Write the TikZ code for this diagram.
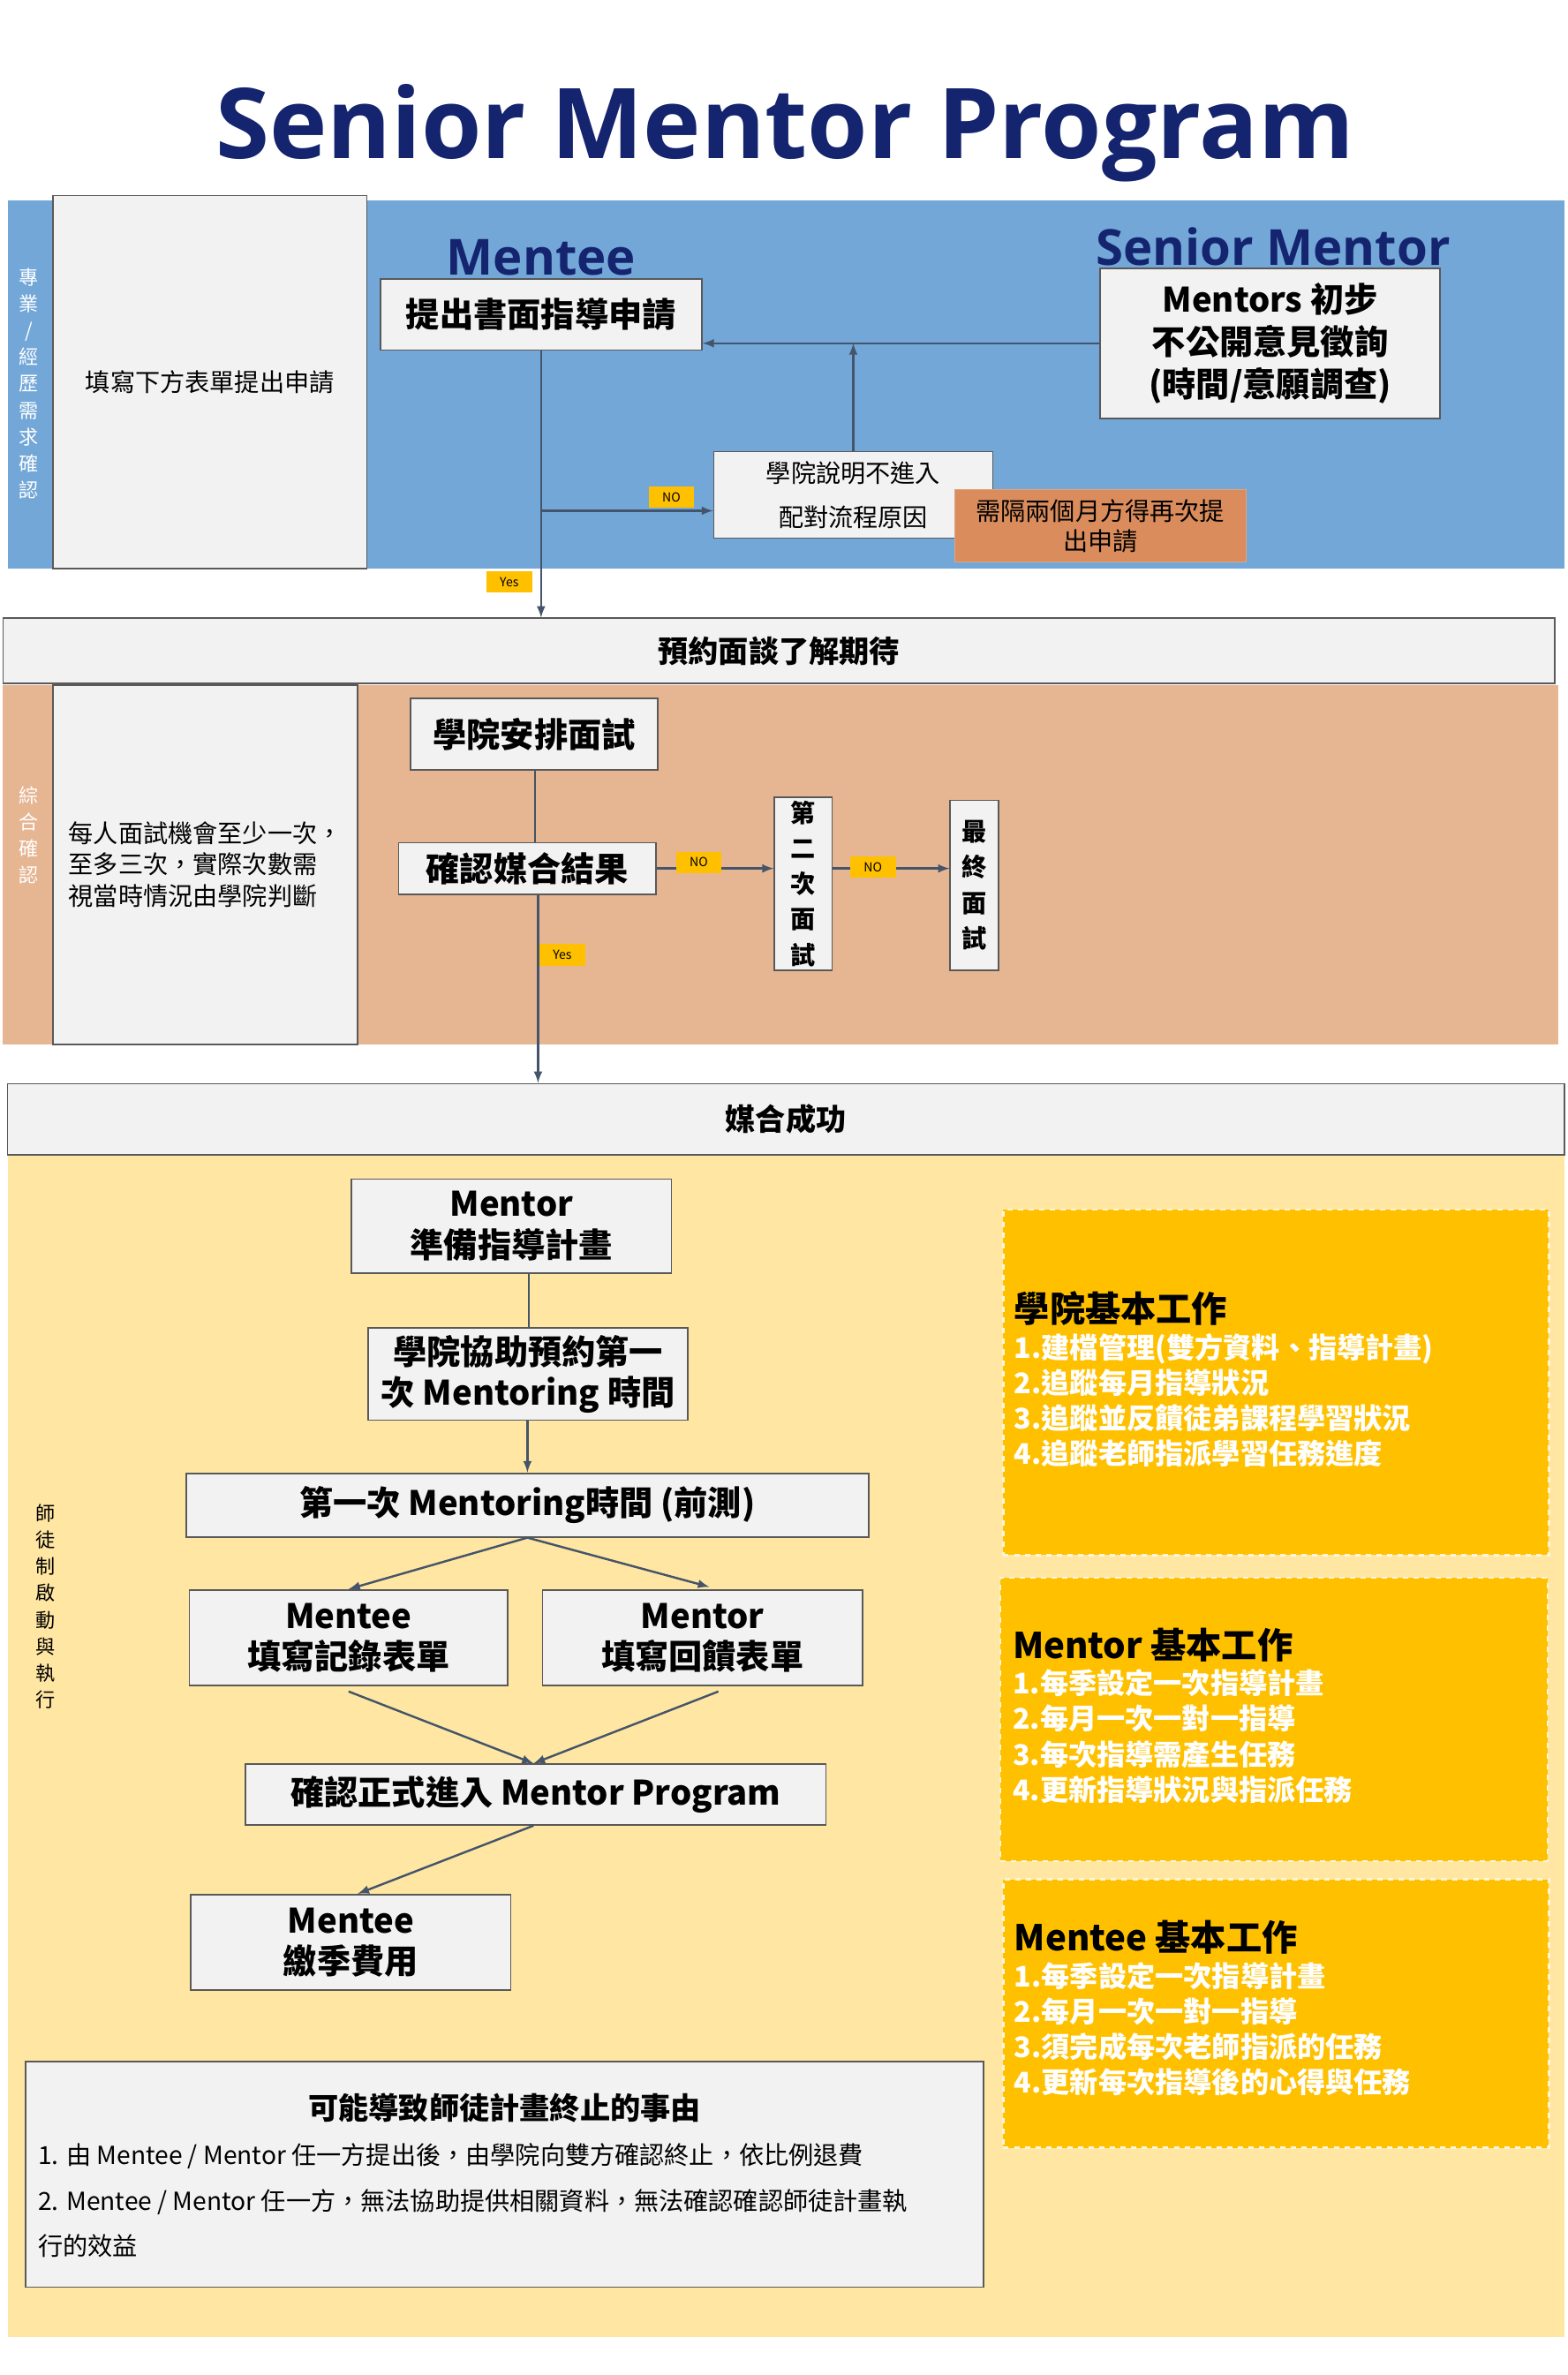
\documentclass[tikz,border=0pt]{standalone}
\usepackage{fontspec}
\setmainfont{Noto Sans CJK TC}
\newfontfamily\titlefont{Open Sans}
\usetikzlibrary{positioning,calc}

\definecolor{navy}{RGB}{20,36,110}
\definecolor{bandblue}{RGB}{114,167,216}
\definecolor{bandtan}{RGB}{230,181,146}
\definecolor{bandyellow}{RGB}{255,230,162}
\definecolor{gold}{RGB}{255,192,0}
\definecolor{waitorange}{RGB}{218,140,92}
\definecolor{boxgray}{RGB}{242,242,242}
\definecolor{edgegray}{RGB}{89,89,89}
\definecolor{arrowslate}{RGB}{68,84,106}

\begin{document}
\begin{tikzpicture}[x=0.03cm,y=-0.03cm,
    sz/.style 2 args={minimum width=#1*0.03cm, minimum height=#2*0.03cm},
    box/.style={draw=edgegray, line width=0.9pt, fill=boxgray, inner sep=0pt, align=center},
    goldbox/.style={draw=white!85!gold, dashed, line width=1.2pt, fill=gold, inner sep=0pt},
    tag/.style={fill=gold, inner sep=0pt, sz={30}{14}, font=\fontsize{7}{8}\selectfont},
    flow/.style={draw=arrowslate, line width=1.2pt, -latex},
    plain/.style={draw=arrowslate, line width=1.2pt},
    big/.style={font=\fontsize{19}{23}\selectfont\bfseries},
    mid/.style={font=\fontsize{14}{18}\selectfont},
    sidetext/.style={align=center, font=\fontsize{11}{15}\selectfont}]
  \useasboundingbox (0,0) rectangle (1034,1567);
  \fill[white] (0,0) rectangle (1034,1567);
  % bands
  \fill[bandblue] (5,132) rectangle (1032,375);
  \fill[bandtan] (2,452) rectangle (1028,689);
  \fill[bandyellow] (5,762) rectangle (1032,1542);
  % headings
  \node[text=navy, font=\fontsize{55}{62}\selectfont\titlefont\bfseries] (title) at (518,88) {Senior Mentor Program};
  \node[text=navy, font=\fontsize{28}{32}\selectfont\titlefont\bfseries] (menteehead) at (357,170) {Mentee};
  \node[text=navy, font=\fontsize{28}{32}\selectfont\titlefont\bfseries] (mentorhead) at (840,163) {Senior Mentor};
  \node[sidetext, text=white] (side1) at (19,253) {專\\業\\/\\經\\歷\\需\\求\\確\\認};
  \node[sidetext, text=white] (side2) at (19,551) {綜\\合\\確\\認};
  \node[sidetext] (side3) at (30,1060) {師\\徒\\制\\啟\\動\\與\\執\\行};

  % application stage
  \node[box, sz={207}{246}, mid] (form) at (138.5,252) {填寫下方表單提出申請};
  \node[box, sz={212}{47}, big] (apply) at (357,207.5) {提出書面指導申請};
  \node[box, sz={224}{99}, font=\fontsize{19}{24}\selectfont\bfseries] (mentors) at (838,226.5) {Mentors 初步\\不公開意見徵詢\\(時間/意願調查)};
  \node[box, sz={184}{57}, font=\fontsize{14}{25}\selectfont] (reason) at (563,326.5) {學院說明不進入\\配對流程原因};
  \node[fill=waitorange, draw=waitorange!80!white, sz={192}{48}, inner sep=0pt, align=center, font=\fontsize{14}{17}\selectfont] (wait) at (726,347) {需隔兩個月方得再次提\\出申請};

  % interview stage
  \node[box, sz={1024}{43}, font=\fontsize{17}{20}\selectfont\bfseries] (reserve) at (514,429.5) {預約面談了解期待};
  \node[box, sz={201}{237}, align=left, font=\fontsize{14}{17.5}\selectfont] (chances) at (135.5,570.5) {每人面試機會至少一次，\\至多三次，實際次數需\\視當時情況由學院判斷};
  \node[box, sz={163}{47}, big] (interview) at (352.5,484.5) {學院安排面試};
  \node[box, sz={170}{34}, big] (confirm) at (348,573) {確認媒合結果};
  \node[box, sz={38}{114}, font=\fontsize{14}{20}\selectfont\bfseries] (second) at (530,583) {第\\二\\次\\面\\試};
  \node[box, sz={32}{112}, font=\fontsize{14}{20}\selectfont\bfseries] (final) at (643,584) {最\\終\\面\\試};

  % matched stage
  \node[box, sz={1027}{47}, font=\fontsize{17}{20}\selectfont\bfseries] (matched) at (518.5,738.5) {媒合成功};
  \node[box, sz={211}{62}, big] (plan) at (337.5,809) {Mentor\\準備指導計畫};
  \node[box, sz={211}{61}, big] (book) at (348.5,906.5) {學院協助預約第一\\次 Mentoring 時間};
  \node[box, sz={450}{42}, big] (first) at (348,993) {第一次 Mentoring時間 (前測)};
  \node[box, sz={210}{63}, big] (record) at (230,1080.5) {Mentee\\填寫記錄表單};
  \node[box, sz={211}{63}, big] (feedback) at (463.5,1080.5) {Mentor\\填寫回饋表單};
  \node[box, sz={383}{40}, big] (enter) at (353.5,1184) {確認正式進入 Mentor Program};
  \node[box, sz={211}{63}, big] (fee) at (231.5,1281.5) {Mentee\\繳季費用};
  \node[box, sz={632}{149}] (stop) at (333,1434.5) {};
  \node[font=\fontsize{17}{20}\selectfont\bfseries] (stoptitle) at (333,1391) {可能導致師徒計畫終止的事由};
  \node[anchor=north west, align=left, inner sep=0pt, font=\fontsize{14}{25.6}\selectfont] (stoplist) at (25,1414) {1. 由 Mentee / Mentor 任一方提出後，由學院向雙方確認終止，依比例退費\\2. Mentee / Mentor 任一方，無法協助提供相關資料，無法確認確認師徒計畫執\\行的效益};

  % basic duties
  \node[goldbox, sz={360}{228}] (collegebox) at (842,912) {};
  \node[goldbox, sz={361}{187}] (mentorbox) at (840.5,1134.5) {};
  \node[goldbox, sz={360}{177}] (menteebox) at (842,1328.5) {};
  \node[anchor=north west, align=left, inner sep=0pt, text=white, font=\fontsize{16}{20}\selectfont\bfseries] (collegetext) at (669,852)
    {{\color{black}\fontsize{20}{24}\selectfont 學院基本工作}\\1.建檔管理(雙方資料、指導計畫)\\2.追蹤每月指導狀況\\3.追蹤並反饋徒弟課程學習狀況\\4.追蹤老師指派學習任務進度};
  \node[anchor=north west, align=left, inner sep=0pt, text=white, font=\fontsize{16}{20}\selectfont\bfseries] (mentortext) at (668,1074)
    {{\color{black}\fontsize{20}{24}\selectfont Mentor 基本工作}\\1.每季設定一次指導計畫\\2.每月一次一對一指導\\3.每次指導需產生任務\\4.更新指導狀況與指派任務};
  \node[anchor=north west, align=left, inner sep=0pt, text=white, font=\fontsize{16}{20}\selectfont\bfseries] (menteetext) at (669,1267)
    {{\color{black}\fontsize{20}{24}\selectfont Mentee 基本工作}\\1.每季設定一次指導計畫\\2.每月一次一對一指導\\3.須完成每次老師指派的任務\\4.更新每次指導後的心得與任務};

  % connectors
  \coordinate (split) at (357,337);
  \draw[flow] (apply.south) -- (apply.south |- reserve.north);
  \draw[flow] (split) -- (reason.west |- split);
  \draw[flow] (reason.north) -- (reason.north |- mentors.west);
  \draw[flow] (mentors.west) -- (apply.east |- mentors.west);
  \node[tag] (no1) at (443,328) {NO};
  \node[tag] (yes1) at (336,384) {Yes};
  \draw[plain] (interview.south -| 353,0) -- (confirm.north -| 353,0);
  \draw[flow] (confirm.east) -- (second.west |- confirm.east);
  \draw[flow] (second.east |- confirm.east) -- (final.west |- confirm.east);
  \node[tag] (no2) at (461,569) {NO};
  \node[tag] (no3) at (576,572) {NO};
  \draw[flow] (confirm.south -| 355,0) -- (matched.north -| 355,0);
  \node[tag] (yes2) at (371,630) {Yes};
  \draw[plain] (plan.south -| 349,0) -- (book.north -| 349,0);
  \draw[flow] (book.south -| 348,0) -- (first.north -| 348,0);
  \draw[flow] (first.south) -- (record.north);
  \draw[flow] (first.south) -- (468,1047);
  \coordinate (recordfoot) at (230,1116);
  \coordinate (feedbackfoot) at (474,1116);
  \draw[flow] (recordfoot) -- (enter.north -| 352,0);
  \draw[flow] (feedbackfoot) -- (enter.north -| 352,0);
  \draw[flow] (enter.south -| 352,0) -- (fee.north -| 236,0);
\end{tikzpicture}
\end{document}
